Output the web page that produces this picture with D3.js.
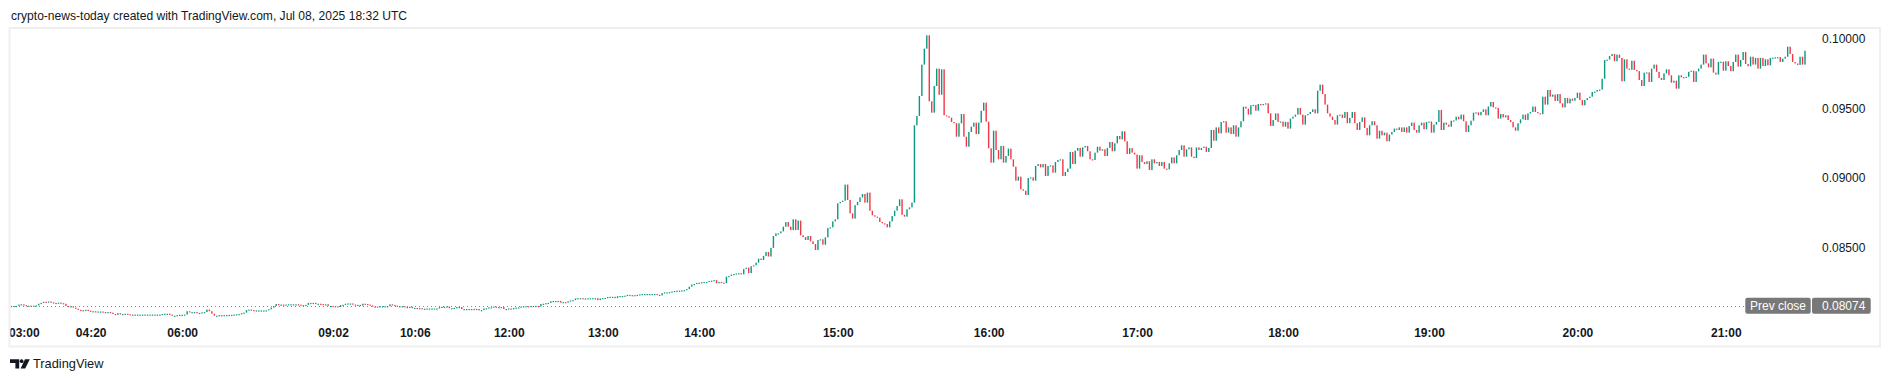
<!DOCTYPE html>
<html>
<head>
<meta charset="utf-8">
<script src="https://cdn.jsdelivr.net/npm/d3@7"></script>
<style>
  html, body { margin: 0; padding: 0; background: #ffffff; }
  svg { display: block; }
  text { font-family: "Liberation Sans", Arial, sans-serif; }
</style>
</head>
<body>
<div id="chart"></div>
<script>
// ---------------- DATA ----------------
const titleText = "crypto-news-today created with TradingView.com, Jul 08, 2025 18:32 UTC";
const prevClose = 0.08074;
const priceTicks = [0.085, 0.09, 0.095, 0.1];
const priceTickLabels = ["0.08500", "0.09000", "0.09500", "0.10000"];
const timeTickLabels = ["03:00", "04:20", "06:00", "09:02", "10:06", "12:00", "13:00", "14:00", "15:00", "16:00", "17:00", "18:00", "19:00", "20:00", "21:00"];
const timeTickIndex = [5, 32, 69, 130, 163, 201, 239, 278, 334, 395, 455, 514, 573, 633, 693];
// 1-minute closes (each candle opens at the previous close)
const closes = [
0.08072,0.08074,0.08074,0.08084,0.08086,0.08080,0.08076,0.08076,0.08070,0.08076,
0.08078,0.08090,0.08096,0.08104,0.08100,0.08106,0.08100,0.08096,0.08096,0.08098,
0.08094,0.08090,0.08074,0.08066,0.08072,0.08062,0.08054,0.08046,0.08044,0.08044,
0.08046,0.08040,0.08036,0.08036,0.08032,0.08034,0.08034,0.08030,0.08030,0.08030,
0.08026,0.08016,0.08010,0.08022,0.08016,0.08016,0.08018,0.08014,0.08012,0.08012,
0.08012,0.08012,0.08012,0.08012,0.08012,0.08012,0.08012,0.08012,0.08012,0.08012,
0.08012,0.08016,0.08018,0.08018,0.08012,0.08004,0.08004,0.08008,0.08010,0.08010,
0.08012,0.08036,0.08028,0.08030,0.08030,0.08022,0.08024,0.08028,0.08030,0.08048,
0.08036,0.08018,0.08004,0.08004,0.08008,0.08008,0.08008,0.08008,0.08010,0.08010,
0.08012,0.08014,0.08016,0.08022,0.08026,0.08044,0.08048,0.08044,0.08042,0.08042,
0.08042,0.08042,0.08042,0.08042,0.08050,0.08062,0.08074,0.08088,0.08080,0.08084,
0.08078,0.08084,0.08086,0.08086,0.08086,0.08086,0.08084,0.08080,0.08080,0.08082,
0.08096,0.08090,0.08096,0.08090,0.08090,0.08088,0.08080,0.08086,0.08074,0.08074,
0.08072,0.08072,0.08066,0.08080,0.08082,0.08090,0.08092,0.08092,0.08084,0.08078,
0.08082,0.08076,0.08090,0.08088,0.08084,0.08078,0.08070,0.08068,0.08070,0.08072,
0.08072,0.08072,0.08072,0.08086,0.08082,0.08076,0.08072,0.08072,0.08072,0.08066,
0.08066,0.08068,0.08058,0.08060,0.08056,0.08058,0.08050,0.08054,0.08056,0.08056,
0.08056,0.08056,0.08056,0.08066,0.08068,0.08068,0.08070,0.08058,0.08058,0.08060,
0.08066,0.08066,0.08052,0.08052,0.08052,0.08052,0.08052,0.08053,0.08053,0.08042,
0.08044,0.08056,0.08058,0.08064,0.08064,0.08070,0.08066,0.08066,0.08066,0.08052,
0.08052,0.08056,0.08050,0.08060,0.08062,0.08064,0.08070,0.08072,0.08072,0.08070,
0.08074,0.08074,0.08074,0.08070,0.08088,0.08090,0.08094,0.08096,0.08108,0.08110,
0.08110,0.08110,0.08098,0.08102,0.08098,0.08108,0.08114,0.08116,0.08128,0.08130,
0.08130,0.08128,0.08128,0.08130,0.08130,0.08130,0.08130,0.08116,0.08128,0.08130,
0.08132,0.08138,0.08140,0.08140,0.08130,0.08144,0.08146,0.08146,0.08148,0.08154,
0.08150,0.08152,0.08150,0.08154,0.08158,0.08160,0.08160,0.08160,0.08160,0.08160,
0.08160,0.08154,0.08150,0.08166,0.08172,0.08172,0.08174,0.08178,0.08182,0.08184,
0.08184,0.08186,0.08188,0.08196,0.08213,0.08228,0.08232,0.08240,0.08242,0.08245,
0.08247,0.08247,0.08254,0.08256,0.08260,0.08237,0.08247,0.08242,0.08238,0.08285,
0.08290,0.08300,0.08304,0.08308,0.08310,0.08302,0.08340,0.08350,0.08310,0.08360,
0.08367,0.08386,0.08415,0.08405,0.08434,0.08463,0.08430,0.08492,0.08578,0.08597,
0.08597,0.08611,0.08645,0.08678,0.08645,0.08620,0.08698,0.08621,0.08689,0.08583,
0.08570,0.08549,0.08578,0.08539,0.08520,0.08477,0.08549,0.08554,0.08515,0.08568,
0.08635,0.08640,0.08683,0.08698,0.08813,0.08823,0.08832,0.08948,0.08837,0.08741,
0.08703,0.08800,0.08823,0.08856,0.08880,0.08818,0.08890,0.08760,0.08727,0.08717,
0.08710,0.08679,0.08669,0.08664,0.08640,0.08683,0.08722,0.08760,0.08794,0.08842,
0.08730,0.08717,0.08770,0.08784,0.08818,0.09375,0.09442,0.09586,0.09812,0.09927,
0.10023,0.09548,0.09466,0.09658,0.09783,0.09595,0.09778,0.09447,0.09440,0.09430,
0.09399,0.09390,0.09293,0.09389,0.09456,0.09293,0.09221,0.09327,0.09365,0.09394,
0.09312,0.09394,0.09480,0.09538,0.09401,0.09209,0.09106,0.09336,0.09197,0.09130,
0.09226,0.09106,0.09154,0.09207,0.09130,0.09077,0.08976,0.09005,0.08914,0.08904,
0.08873,0.08995,0.09000,0.08976,0.09082,0.09096,0.09072,0.09096,0.09010,0.09082,
0.09086,0.09034,0.09111,0.09125,0.09130,0.09010,0.09039,0.09063,0.09183,0.09096,
0.09192,0.09212,0.09149,0.09216,0.09226,0.09188,0.09130,0.09125,0.09178,0.09221,
0.09192,0.09202,0.09154,0.09212,0.09255,0.09188,0.09245,0.09298,0.09274,0.09332,
0.09260,0.09168,0.09210,0.09178,0.09164,0.09063,0.09159,0.09111,0.09096,0.09116,
0.09053,0.09130,0.09101,0.09111,0.09082,0.09111,0.09063,0.09058,0.09101,0.09144,
0.09101,0.09159,0.09197,0.09231,0.09149,0.09202,0.09216,0.09149,0.09139,0.09216,
0.09197,0.09212,0.09221,0.09183,0.09212,0.09341,0.09264,0.09360,0.09317,0.09399,
0.09404,0.09322,0.09360,0.09312,0.09375,0.09293,0.09360,0.09404,0.09509,0.09495,
0.09452,0.09519,0.09522,0.09480,0.09528,0.09519,0.09528,0.09533,0.09461,0.09370,
0.09413,0.09461,0.09399,0.09402,0.09365,0.09399,0.09351,0.09423,0.09437,0.09452,
0.09500,0.09452,0.09380,0.09447,0.09456,0.09471,0.09490,0.09461,0.09624,0.09668,
0.09600,0.09524,0.09461,0.09437,0.09413,0.09380,0.09447,0.09452,0.09428,0.09471,
0.09390,0.09428,0.09471,0.09390,0.09341,0.09399,0.09432,0.09356,0.09303,0.09375,
0.09404,0.09375,0.09279,0.09336,0.09303,0.09322,0.09260,0.09308,0.09327,0.09351,
0.09341,0.09360,0.09327,0.09360,0.09322,0.09370,0.09394,0.09341,0.09322,0.09375,
0.09394,0.09346,0.09399,0.09402,0.09322,0.09380,0.09399,0.09485,0.09341,0.09394,
0.09380,0.09365,0.09408,0.09410,0.09437,0.09418,0.09452,0.09404,0.09327,0.09375,
0.09408,0.09466,0.09468,0.09447,0.09471,0.09490,0.09447,0.09510,0.09543,0.09504,
0.09500,0.09423,0.09456,0.09432,0.09447,0.09413,0.09399,0.09360,0.09336,0.09389,
0.09418,0.09452,0.09413,0.09461,0.09471,0.09510,0.09471,0.09461,0.09455,0.09581,
0.09524,0.09629,0.09581,0.09596,0.09550,0.09600,0.09533,0.09504,0.09572,0.09533,
0.09567,0.09552,0.09572,0.09610,0.09557,0.09519,0.09557,0.09571,0.09581,0.09615,
0.09617,0.09629,0.09632,0.09710,0.09845,0.09848,0.09874,0.09888,0.09836,0.09884,
0.09860,0.09692,0.09850,0.09783,0.09775,0.09840,0.09773,0.09765,0.09701,0.09658,
0.09754,0.09756,0.09687,0.09783,0.09812,0.09760,0.09716,0.09701,0.09749,0.09778,
0.09735,0.09682,0.09696,0.09639,0.09735,0.09720,0.09722,0.09724,0.09760,0.09768,
0.09687,0.09764,0.09783,0.09812,0.09884,0.09821,0.09792,0.09855,0.09754,0.09740,
0.09831,0.09833,0.09768,0.09836,0.09802,0.09764,0.09831,0.09884,0.09797,0.09845,
0.09903,0.09816,0.09800,0.09869,0.09812,0.09860,0.09783,0.09860,0.09802,0.09850,
0.09807,0.09860,0.09862,0.09864,0.09866,0.09831,0.09855,0.09869,0.09941,0.09888,
0.09831,0.09820,0.09810,0.09869,0.09812,0.09912
];

// ---------------- DRAW ----------------
const W = 1890, H = 382;
const UP = "#089981", DOWN = "#f23645", TEXT = "#131722", LABEL_BG = "#787878";

const svg = d3.select("#chart").append("svg")
  .attr("width", W).attr("height", H).attr("viewBox", `0 0 ${W} ${H}`);

svg.append("rect").attr("width", W).attr("height", H).attr("fill", "#ffffff");

// title
svg.append("text")
  .attr("x", 11).attr("y", 20)
  .attr("font-size", 13).attr("fill", TEXT)
  .attr("textLength", 396).attr("lengthAdjust", "spacingAndGlyphs")
  .text(titleText);

// frame
svg.append("rect")
  .attr("x", 9.5).attr("y", 28).attr("width", 1870.5).attr("height", 318.5)
  .attr("fill", "none").attr("stroke", "#efefef").attr("stroke-width", 2);

const x = d3.scaleLinear().domain([0, closes.length - 1]).range([11.5, 1805]);
const y = d3.scaleLinear().domain([0.085, 0.1]).range([246.8, 38.5]);

const defs = svg.append("defs");
defs.append("clipPath").attr("id", "plotClip")
  .append("rect").attr("x", 10.5).attr("y", 29).attr("width", 1805).attr("height", 290);
defs.append("clipPath").attr("id", "axisClip")
  .append("rect").attr("x", 10.5).attr("y", 318).attr("width", 1868).attr("height", 27);

// prev close dotted line
svg.append("line")
  .attr("x1", 11).attr("x2", 1744)
  .attr("y1", Math.round(y(prevClose)) + 0.5).attr("y2", Math.round(y(prevClose)) + 0.5)
  .attr("stroke", "#8a8a8a").attr("stroke-width", 1)
  .attr("stroke-dasharray", "1,3");

// candles
const candles = closes.map((c, i) => ({
  i, open: i > 0 ? closes[i - 1] : prevClose, close: c
}));
const bw = 1.4;
svg.append("g").attr("clip-path", "url(#plotClip)")
  .selectAll("rect.candle").data(candles).join("rect")
  .attr("class", "candle")
  .attr("x", d => x(d.i) - bw / 2)
  .attr("width", bw)
  .attr("y", d => Math.min(y(d.open), y(d.close)))
  .attr("height", d => Math.max(1.2, Math.abs(y(d.open) - y(d.close))))
  .attr("fill", d => d.close >= d.open ? UP : DOWN);

// price axis labels
const yAxis = d3.axisRight(y).tickValues(priceTicks)
  .tickFormat((d, k) => priceTickLabels[k]).tickSize(0).tickPadding(0);
const ya = svg.append("g").attr("transform", "translate(1822,0)").call(yAxis);
ya.select(".domain").remove();
ya.selectAll("text").attr("font-size", 12).attr("fill", TEXT)
  .attr("font-family", "'Liberation Sans', Arial, sans-serif")
  .attr("dy", "0.35em");

// time axis labels
const xAxis = d3.axisBottom(x).tickValues(timeTickIndex)
  .tickFormat((d, k) => timeTickLabels[k]).tickSize(0).tickPadding(0);
const xa = svg.append("g").attr("clip-path", "url(#axisClip)")
  .append("g").attr("transform", "translate(0,332.5)").call(xAxis);
xa.select(".domain").remove();
xa.selectAll("text").attr("font-size", 12).attr("font-weight", "bold").attr("fill", TEXT)
  .attr("font-family", "'Liberation Sans', Arial, sans-serif")
  .attr("dy", "0.35em");

// prev close labels
const pcY = y(prevClose);
const lab = svg.append("g");
lab.append("rect").attr("x", 1745.3).attr("y", pcY - 8.3).attr("width", 65.4).attr("height", 16)
  .attr("rx", 2).attr("fill", LABEL_BG);
lab.append("rect").attr("x", 1812).attr("y", pcY - 8.3).attr("width", 58.7).attr("height", 16)
  .attr("rx", 2).attr("fill", LABEL_BG);
lab.append("text").attr("x", 1778).attr("y", pcY).attr("dy", "0.35em")
  .attr("text-anchor", "middle").attr("font-size", 12).attr("fill", "#ffffff")
  .text("Prev close");
lab.append("text").attr("x", 1822).attr("y", pcY).attr("dy", "0.35em")
  .attr("font-size", 12).attr("fill", "#ffffff")
  .text(d3.format(".5f")(prevClose));

// TradingView branding
const logo = svg.append("g").attr("fill", TEXT);
logo.append("path").attr("d", "M10,359.3 H19.2 V368.5 H15.4 V363 H10 Z");
logo.append("circle").attr("cx", 21.6).attr("cy", 361.2).attr("r", 1.9);
logo.append("path").attr("d", "M25,359.3 H29.8 L25.2,368.5 H20.6 Z");
svg.append("text")
  .attr("x", 33).attr("y", 368)
  .attr("font-size", 13.5).attr("fill", TEXT)
  .attr("textLength", 70.5).attr("lengthAdjust", "spacingAndGlyphs")
  .text("TradingView");
</script>
</body>
</html>
